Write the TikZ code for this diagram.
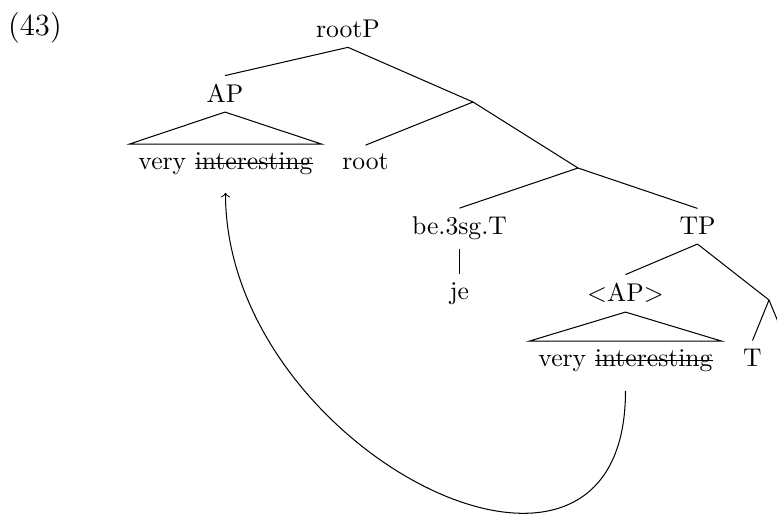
\documentclass[tikz,border=0pt]{standalone}
\usepackage{tikz}

\newcommand{\strk}[1]{\setbox0\hbox{#1}\rlap{\rule[0.5ex]{\wd0}{0.4pt}}\box0}

\begin{document}
\begin{tikzpicture}[x=0.39pt, y=-0.39pt,
			cat/.style={
				anchor=base}]
			\useasboundingbox (0,0) rectangle (777,514);
			\node (ex) at (35,36) [cat, font=\large] {(43)};
			\node (rootP) at (348,38) [cat] {rootP};
			\node (AP) at (225,103) [cat] {AP};
			\node (vi1) at (225.5,170) [cat] {very \strk{interesting}};
			\node (root) at (365.5,170) [cat] {root};
			\node (be) at (459.5,235) [cat] {be.3sg.T};
			\node (je) at (459.5,300) [cat] {je};
			\node (TP) at (697.5,235) [cat] {TP};
			\node (apAP) at (625.5,302) [cat] {<AP>};
			\node (vi2) at (625.5,367) [cat] {very \strk{interesting}};
			\node (T) at (752.5,367) [cat] {T};
			\coordinate (x1) at (473,102);
			\coordinate (x2) at (578,168);
			\coordinate (x3) at (769,300);
			\coordinate (x4) at (786,341);
			\foreach \a/\b in {rootP.south/AP.north, rootP.south/x1,
				x1/root.north, x1/x2, x2/be.north, x2/TP.north,
				be.south/je.north, TP.south/apAP.north, TP.south/x3,
				x3/T.north, x3/x4}
				\draw (\a) -- (\b);
			% triangles
			\foreach \p/\c in {AP/vi1, apAP/vi2}
				\draw (\c.north west) -- (\p.south) -- (\c.north east) -- cycle;
			\draw[->] ([yshift=-3.7pt]vi2.south) .. controls +(0,262) and +(0,258) .. ([yshift=-3.3pt]vi1.south);
\end{tikzpicture}
\end{document}
